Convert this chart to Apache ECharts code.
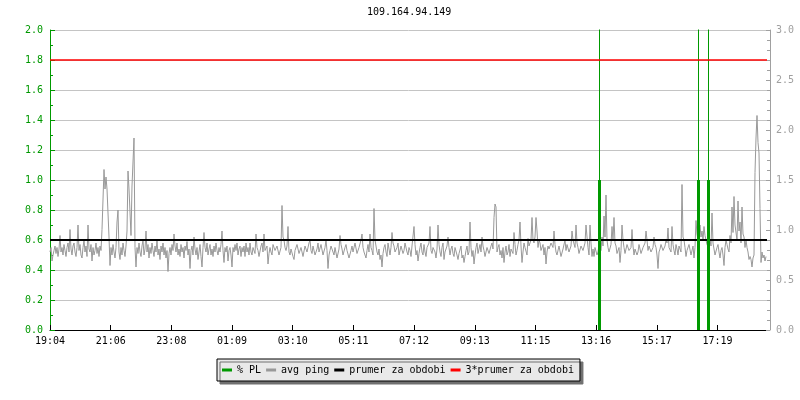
<!DOCTYPE html>
<html><head><meta charset="utf-8">
<script src="https://cdn.jsdelivr.net/npm/echarts@6/dist/echarts.min.js"></script>
<style>html,body{margin:0;padding:0;background:#fff}#c{width:800px;height:400px}</style>
</head><body><div id="c"></div>
<script>
const titleText = '109.164.94.149';
const tickLabels = ['19:04','21:06','23:08','01:09','03:10','05:11','07:12','09:13','11:15','13:16','15:17','17:19'];
const tickIntervalMin = 121.36;
const spanMin = 1434;
const sampleStepMin = 2;
const pingValues = [
0.52,0.55,0.46,0.50,0.53,0.56,0.51,0.55,0.49,0.54,0.63,0.52,0.55,0.50,0.57,0.53,0.49,0.55,0.58,0.52,
0.67,0.54,0.50,0.56,0.58,0.52,0.49,0.55,0.70,0.53,0.57,0.50,0.48,0.55,0.60,0.52,0.56,0.49,0.70,0.54,
0.52,0.57,0.46,0.55,0.50,0.53,0.58,0.51,0.55,0.49,0.56,0.53,0.67,0.66,1.07,0.94,1.02,0.94,0.94,0.62,
0.43,0.55,0.50,0.57,0.52,0.48,0.55,0.72,0.80,0.52,0.47,0.55,0.50,0.58,0.53,0.49,0.56,0.66,1.06,0.94,
0.94,0.63,0.96,0.96,1.28,0.55,0.42,0.55,0.51,0.58,0.52,0.49,0.56,0.60,0.50,0.54,0.66,0.52,0.57,0.48,
0.55,0.51,0.58,0.53,0.49,0.56,0.52,0.60,0.50,0.54,0.47,0.56,0.52,0.58,0.50,0.55,0.48,0.53,0.39,0.51,
0.55,0.50,0.57,0.53,0.64,0.56,0.52,0.58,0.50,0.54,0.49,0.57,0.52,0.55,0.48,0.56,0.53,0.59,0.50,0.54,
0.41,0.53,0.56,0.50,0.62,0.54,0.50,0.55,0.47,0.52,0.57,0.49,0.42,0.55,0.65,0.55,0.52,0.58,0.50,0.54,
0.57,0.50,0.54,0.49,0.56,0.52,0.58,0.53,0.50,0.55,0.52,0.57,0.66,0.53,0.45,0.55,0.52,0.56,0.46,0.53,
0.55,0.50,0.42,0.55,0.52,0.57,0.53,0.58,0.50,0.54,0.56,0.49,0.55,0.52,0.56,0.49,0.58,0.52,0.55,0.50,
0.58,0.52,0.50,0.55,0.56,0.51,0.64,0.55,0.53,0.49,0.50,0.56,0.58,0.52,0.64,0.53,0.52,0.56,0.44,0.51,
0.55,0.52,0.50,0.57,0.57,0.53,0.52,0.56,0.56,0.50,0.49,0.55,0.83,0.62,0.60,0.55,0.53,0.56,0.69,0.52,
0.50,0.54,0.55,0.49,0.47,0.53,0.52,0.57,0.56,0.51,0.50,0.55,0.54,0.49,0.48,0.56,0.57,0.52,0.53,0.58,
0.60,0.53,0.51,0.56,0.55,0.50,0.49,0.54,0.58,0.52,0.52,0.57,0.56,0.50,0.50,0.55,0.60,0.53,0.41,0.50,
0.53,0.56,0.57,0.52,0.50,0.55,0.55,0.48,0.49,0.54,0.63,0.57,0.54,0.50,0.51,0.55,0.57,0.53,0.52,0.48,
0.48,0.53,0.56,0.52,0.53,0.58,0.59,0.51,0.50,0.55,0.55,0.60,0.64,0.55,0.52,0.50,0.48,0.53,0.57,0.52,
0.64,0.55,0.53,0.50,0.81,0.60,0.56,0.52,0.50,0.54,0.47,0.50,0.42,0.51,0.55,0.57,0.52,0.49,0.58,0.54,
0.50,0.55,0.65,0.58,0.56,0.52,0.52,0.55,0.58,0.50,0.49,0.56,0.55,0.51,0.53,0.58,0.57,0.52,0.50,0.55,
0.53,0.49,0.56,0.55,0.69,0.57,0.50,0.53,0.46,0.51,0.55,0.58,0.52,0.50,0.57,0.52,0.49,0.55,0.54,0.58,
0.69,0.53,0.51,0.55,0.56,0.52,0.48,0.54,0.70,0.57,0.52,0.49,0.55,0.58,0.47,0.52,0.53,0.56,0.62,0.55,
0.50,0.54,0.56,0.51,0.49,0.55,0.54,0.50,0.47,0.51,0.52,0.56,0.48,0.50,0.45,0.49,0.53,0.56,0.50,0.52,
0.72,0.55,0.49,0.53,0.44,0.50,0.55,0.58,0.51,0.54,0.57,0.52,0.62,0.56,0.53,0.49,0.50,0.55,0.56,0.51,
0.52,0.56,0.58,0.54,0.75,0.84,0.82,0.52,0.55,0.57,0.50,0.53,0.48,0.55,0.45,0.52,0.56,0.50,0.52,0.57,
0.49,0.54,0.55,0.51,0.65,0.57,0.50,0.53,0.57,0.60,0.72,0.56,0.45,0.52,0.58,0.55,0.54,0.50,0.61,0.56,
0.56,0.60,0.75,0.60,0.58,0.62,0.75,0.66,0.55,0.60,0.58,0.53,0.52,0.57,0.50,0.55,0.44,0.52,0.56,0.54,
0.53,0.58,0.59,0.55,0.66,0.57,0.52,0.50,0.50,0.56,0.56,0.49,0.48,0.54,0.55,0.60,0.53,0.57,0.58,0.52,
0.51,0.56,0.66,0.60,0.60,0.55,0.70,0.58,0.55,0.51,0.50,0.56,0.57,0.53,0.52,0.58,0.70,0.62,0.55,0.50,
0.70,0.58,0.49,0.54,0.49,0.55,0.56,0.50,0.52,0.57,0.58,0.53,0.62,0.56,0.76,0.62,0.90,0.60,0.55,0.52,
0.53,0.57,0.69,0.60,0.75,0.58,0.56,0.51,0.52,0.55,0.45,0.53,0.70,0.60,0.55,0.51,0.52,0.57,0.58,0.53,
0.53,0.55,0.67,0.56,0.50,0.54,0.55,0.50,0.52,0.57,0.57,0.51,0.50,0.55,0.54,0.58,0.66,0.60,0.53,0.56,
0.56,0.52,0.51,0.55,0.62,0.57,0.55,0.50,0.41,0.52,0.54,0.57,0.57,0.53,0.52,0.56,0.60,0.58,0.68,0.55,
0.55,0.52,0.69,0.57,0.53,0.50,0.57,0.54,0.50,0.56,0.55,0.52,0.97,0.62,0.60,0.55,0.49,0.53,0.54,0.57,
0.57,0.50,0.50,0.56,0.48,0.55,0.73,0.64,0.60,0.66,0.70,0.62,0.66,0.60,0.69,0.63,0.62,0.57,0.58,0.54,
0.60,0.56,0.78,0.58,0.54,0.50,0.50,0.55,0.57,0.52,0.48,0.53,0.55,0.50,0.43,0.55,0.60,0.57,0.54,0.52,
0.63,0.58,0.82,0.65,0.89,0.70,0.70,0.60,0.86,0.66,0.72,0.58,0.82,0.64,0.62,0.55,0.60,0.55,0.52,0.47,
0.49,0.47,0.42,0.48,0.50,1.05,1.28,1.43,1.25,1.18,0.81,0.45,0.52,0.48,0.50,0.46,0.49
];
const meanPing = 0.6;
const tripleMean = 1.8;
const plMinutes = [1099, 1297, 1317];
const plLow = [1.0, 1.0, 1.0];
const plHigh = [100, 100, 100];

const mono = 'DejaVu Sans Mono';
const green = '#009900';
const gray = '#999999';
const axisGray = '#a0a0a0';

const pingData = pingValues.map((v, i) => [i * sampleStepMin, v]);
const plThick = [], plThin = [];
plMinutes.forEach((m, k) => {
  plThick.push([m, 0], [m, plLow[k]], [m, '-']);
  plThin.push([m, plLow[k]], [m, plHigh[k]], [m, '-']);
});

const chart = echarts.init(document.getElementById('c'), null, {renderer: 'canvas'});
chart.setOption({
  animation: false,
  backgroundColor: '#ffffff',
  title: {
    text: titleText, left: 367, top: 7, padding: 0,
    textStyle: {fontFamily: mono, fontSize: 10, fontWeight: 'normal', color: '#000'}
  },
  legend: {
    data: ['% PL', 'avg ping', 'prumer za obdobi', '3*prumer za obdobi'],
    left: 217, top: 359, orient: 'horizontal',
    padding: [6, 6, 6, 5], itemGap: 5, itemWidth: 10, itemHeight: 3,
    icon: 'rect',
    backgroundColor: '#e9e9e9', borderColor: '#000', borderWidth: 1, borderRadius: 0,
    shadowColor: '#707070', shadowBlur: 0, shadowOffsetX: 3, shadowOffsetY: 3,
    textStyle: {fontFamily: mono, fontSize: 10, color: '#000'},
    selectedMode: false
  },
  grid: {left: 50, top: 30, width: 717, height: 300, containLabel: false},
  xAxis: {
    type: 'value', min: 0, max: spanMin, interval: tickIntervalMin,
    axisLine: {show: true, lineStyle: {color: '#000', width: 1}},
    axisTick: {show: true, inside: true, length: 5, lineStyle: {color: '#000'}},
    splitLine: {show: false},
    axisLabel: {
      show: true, margin: 6, color: '#000', fontFamily: mono, fontSize: 10,
      showMaxLabel: false,
      formatter: function (v) {
        const k = Math.round(v / tickIntervalMin);
        return (Math.abs(v - k * tickIntervalMin) < 0.5 && tickLabels[k]) ? tickLabels[k] : '';
      }
    }
  },
  yAxis: [{
    type: 'value', min: 0, max: 2, interval: 0.2, position: 'left',
    axisLine: {show: true, lineStyle: {color: green, width: 1}},
    axisTick: {show: true, inside: true, length: 5, lineStyle: {color: green}},
    minorTick: {show: true, splitNumber: 2, length: 3, lineStyle: {color: green}},
    splitLine: {show: true, lineStyle: {color: '#c4c4c4', width: 1}},
    axisLabel: {color: green, fontFamily: mono, fontSize: 10, margin: 7, formatter: v => v.toFixed(1)}
  }, {
    type: 'value', min: 0, max: 3, interval: 0.5, position: 'right', offset: 3,
    axisLine: {show: true, lineStyle: {color: axisGray, width: 1}},
    axisTick: {show: true, inside: true, length: 4, lineStyle: {color: axisGray}},
    minorTick: {show: true, splitNumber: 5, length: 3, lineStyle: {color: axisGray}},
    splitLine: {show: false},
    axisLabel: {color: axisGray, fontFamily: mono, fontSize: 10, margin: 6, formatter: v => v.toFixed(1)}
  }],
  series: [{
    name: 'avg ping', type: 'line', data: pingData, step: 'end', showSymbol: false,
    lineStyle: {color: gray, width: 1}, itemStyle: {color: gray}, z: 2
  }, {
    name: 'prumer za obdobi', type: 'line', data: [[0, meanPing], [spanMin, meanPing]], showSymbol: false,
    lineStyle: {color: '#000', width: 2}, itemStyle: {color: '#000'}, z: 3
  }, {
    name: '% PL', type: 'line', data: plThick, showSymbol: false, connectNulls: false,
    lineStyle: {color: green, width: 3}, itemStyle: {color: green}, z: 4
  }, {
    name: '% PL', type: 'line', data: plThin, showSymbol: false, connectNulls: false,
    lineStyle: {color: green, width: 1}, itemStyle: {color: green}, z: 4
  }, {
    name: '3*prumer za obdobi', type: 'line', data: [[0, tripleMean], [spanMin, tripleMean]], showSymbol: false,
    lineStyle: {color: '#ff0000', width: 1.5}, itemStyle: {color: '#ff0000'}, z: 5
  }]
});
</script>
</body></html>
